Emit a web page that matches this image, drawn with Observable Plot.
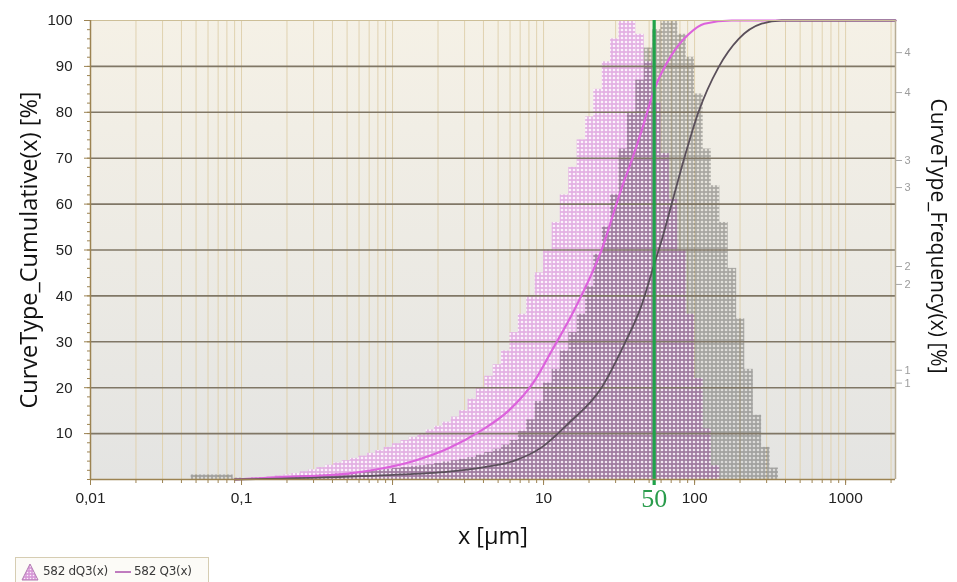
<!DOCTYPE html>
<html>
<head>
<meta charset="utf-8">
<script src="https://cdn.jsdelivr.net/npm/d3@7"></script>
<script src="https://cdn.jsdelivr.net/npm/@observablehq/plot@0.6"></script>
<style>
  html, body { margin: 0; padding: 0; background: #ffffff; }
  body { position: relative; width: 957px; height: 582px; overflow: hidden; font-family: "Liberation Sans", sans-serif; }
  #legend { position: absolute; left: 15px; top: 557px; width: 194px; height: 30px; border: 1px solid #d6cdb2; background: #fcfbf7; box-sizing: border-box; }
  #legend .item { position: absolute; top: 6px; font-size: 12px; color: #3a3a3a; font-family: "DejaVu Sans", sans-serif; letter-spacing: -0.3px; }
</style>
</head>
<body>
<div id="chart"></div>
<div id="legend"></div>
<script>
// ---------- data ----------
const binEdges = [0.0464, 0.0527, 0.0599, 0.0681, 0.0774, 0.0880,
  0.1, 0.114, 0.129, 0.147, 0.167, 0.190, 0.215, 0.245, 0.278, 0.316, 0.359, 0.408, 0.464, 0.527, 0.599, 0.681, 0.774, 0.880,
  1, 1.14, 1.29, 1.47, 1.67, 1.90, 2.15, 2.45, 2.78, 3.16, 3.59, 4.08, 4.64, 5.27, 5.99, 6.81, 7.74, 8.80,
  10, 11.4, 12.9, 14.7, 16.7, 19.0, 21.5, 24.5, 27.8, 31.6, 35.9, 40.8, 46.4, 52.7, 59.9, 68.1, 77.4, 88.0,
  100, 114, 129, 147, 167, 190, 215, 245, 278, 316, 359];

const pinkFreq = [0, 0, 0, 0, 0, 0,
  0.2, 0.3, 0.4, 0.6, 0.8, 1.0, 1.3, 1.7, 2.1, 2.6, 3.1, 3.6, 4.1, 4.6, 5.1, 5.7, 6.3, 7.0,
  7.8, 8.5, 9.2, 10.0, 10.8, 11.6, 12.5, 13.6, 15, 17.5, 20, 22.5, 25, 28, 32, 36, 40, 45,
  50, 56, 62, 68, 74, 79, 85, 91, 96, 100, 100, 97, 91, 82, 71, 61, 50, 36,
  22, 11, 3, 0, 0, 0, 0, 0, 0, 0];

const greyFreq = [1.0, 1.0, 1.0, 1.0, 1.0, 0.3,
  0.2, 0.3, 0.3, 0.4, 0.5, 0.6, 0.7, 0.8, 0.9, 1.0, 1.1, 1.2, 1.3, 1.5, 1.6, 1.8, 2.0, 2.2,
  2.4, 2.6, 2.8, 3.0, 3.2, 3.5, 3.8, 4.1, 4.4, 4.8, 5.3, 5.9, 6.6, 7.5, 8.5, 10.5, 13, 17,
  21, 24, 28, 32, 36, 42, 49, 55, 62, 72, 80, 87, 94, 98, 100, 100, 97, 92,
  84, 72, 64, 56, 46, 35, 24, 14, 7, 2.5];

const pinkCumX = [0.09, 0.184, 0.511, 0.846, 1.40, 2.35, 3.88, 5.87, 8.71, 11.3, 16.0, 24.2, 32.9, 38.3, 44.6, 54.2, 70.5, 91.3, 116, 176, 2140];
const pinkCumY = [0, 0.5, 1.3, 2.4, 4.1, 6.8, 10.7, 15, 21.5, 28, 37, 50, 63.5, 69.5, 76, 85, 92.5, 97, 99.3, 100, 100];

const greyCumX = [0.09, 0.184, 0.846, 2.35, 3.88, 6.43, 9.70, 14.6, 24.2, 34.4, 44.6, 51.9, 60.4, 70.5, 84.6, 106, 144, 196, 278, 377, 2140];
const greyCumY = [0, 0.2, 0.9, 1.7, 2.6, 4.1, 7, 12.2, 20, 29.6, 38, 45, 52, 60, 69.5, 80, 89.8, 96, 99.3, 100, 100];

const xTickValues = [0.01, 0.1, 1, 10, 100, 1000];
const xTickLabels = ["0,01", "0,1", "1", "10", "100", "1000"];
const yTickValues = [10, 20, 30, 40, 50, 60, 70, 80, 90, 100];
const rightTickPos = [93.0, 84.3, 69.5, 63.6, 46.4, 42.5, 23.8, 21.0];
const rightTickLabels = ["4", "4", "3", "3", "2", "2", "1", "1"];
const d50Value = 54;
const d50Label = "50";
const yTitle = "CurveType_Cumulative(x) [%]";
const y2Title = "CurveType_Frequency(x) [%]";
const xTitle = "x [µm]";
const legendLabels = ["582 dQ3(x)", "582 Q3(x)"];

// ---------- tables ----------
const bins = pinkFreq.map((v, i) => ({x1: binEdges[i], x2: binEdges[i + 1], pink: v, grey: greyFreq[i]}));
const pinkBins = bins.filter(d => d.pink > 0);
const greyBins = bins.filter(d => d.grey > 0);
const pinkCum = pinkCumX.map((x, i) => ({x, y: pinkCumY[i]}));
const greyCum = greyCumX.map((x, i) => ({x, y: greyCumY[i]}));

const brown = "#9c8352";

const svg = Plot.plot({
  width: 957,
  height: 550,
  marginLeft: 90,
  marginRight: 62,
  marginTop: 20,
  marginBottom: 71,
  style: {background: "transparent", overflow: "visible"},
  x: {type: "log", domain: [0.01, 2140], axis: null},
  y: {domain: [0, 100], axis: null},
  marks: [
    Plot.frame({fill: "url(#bgGrad)", stroke: null}),
    Plot.gridX({stroke: "#e0d2b0", strokeOpacity: 1, strokeWidth: 1}),
    Plot.rect(pinkBins, {x1: "x1", x2: "x2", y1: () => 0, y2: "pink", fill: "url(#pinkPat)"}),
    Plot.rect(greyBins, {x1: "x1", x2: "x2", y1: () => 0, y2: "grey", fill: "url(#greyPat)", mixBlendMode: "multiply"}),
    Plot.ruleY(yTickValues.filter(v => v < 100), {stroke: "#807766", strokeWidth: 1.6}),
    Plot.line(pinkCum, {x: "x", y: "y", stroke: "#dc62dc", strokeWidth: 2.2, curve: "monotone-x"}),
    Plot.line(greyCum, {x: "x", y: "y", stroke: "#5a4f5a", strokeWidth: 1.8, curve: "monotone-x"}),
    Plot.ruleY([100], {stroke: "#cdbf98", strokeWidth: 1}),
    Plot.ruleX([2140], {stroke: "#b8ad95", strokeWidth: 1.5}),
    Plot.ruleX([d50Value], {stroke: "#1fa34a", strokeWidth: 3.2, insetBottom: -6}),
    // left axis
    Plot.axisY(d3.range(0, 101, 2), {anchor: "left", tickSize: 3, tickFormat: () => "", stroke: brown, label: null}),
    Plot.axisY(yTickValues, {anchor: "left", tickSize: 6, tickPadding: 12, stroke: brown, fill: "#222", fontSize: 15, fontFamily: "Liberation Sans", label: null}),
    Plot.ruleX([0.01], {stroke: brown, strokeWidth: 1.5}),
    // bottom axis
    Plot.ruleY([0], {stroke: brown, strokeWidth: 1.5}),
    Plot.axisX({anchor: "bottom", tickSize: 4, tickFormat: () => "", stroke: brown, label: null}),
    Plot.axisX(xTickValues, {anchor: "bottom", tickSize: 6, tickPadding: 6, stroke: brown, fill: "#222", fontSize: 15.5, fontFamily: "Liberation Sans",
      tickFormat: d => xTickLabels[xTickValues.indexOf(d)], label: null}),
    // right axis
    Plot.axisY(rightTickPos, {anchor: "right", tickSize: 6, tickPadding: 3, stroke: "#a7a7a7", fill: "#9c9c9c", fontSize: 11, fontFamily: "Liberation Sans",
      tickFormat: d => rightTickLabels[rightTickPos.indexOf(d)], label: null}),
    // titles
    Plot.text([yTitle], {frameAnchor: "left", dx: -61, rotate: -90, fontSize: 23.5, fontFamily: "Open Sans", fill: "#111", textAnchor: "middle", lineAnchor: "middle"}),
    Plot.text([y2Title], {frameAnchor: "right", dx: 42, dy: -14, rotate: 90, fontSize: 21, fontFamily: "Open Sans", fill: "#111", textAnchor: "middle", lineAnchor: "middle"}),
    Plot.text([xTitle], {frameAnchor: "bottom", dy: 57, fontSize: 23.5, fontFamily: "Open Sans", fill: "#111", textAnchor: "middle", lineAnchor: "middle"}),
    Plot.text([d50Value], {x: d => d, frameAnchor: "bottom", dy: 19, text: () => d50Label, fontSize: 26, fontFamily: "Liberation Serif", fill: "#2a9c4c", textAnchor: "middle", lineAnchor: "middle"})
  ]
});

// defs: background gradient and dotted patterns
const defs = d3.select(svg).insert("defs", ":first-child");
const grad = defs.append("linearGradient").attr("id", "bgGrad").attr("x1", 0).attr("y1", 0).attr("x2", 0).attr("y2", 1);
grad.append("stop").attr("offset", 0).attr("stop-color", "#f5f1e6");
grad.append("stop").attr("offset", 1).attr("stop-color", "#e4e4e2");
function pattern(id, base, dot) {
  const p = defs.append("pattern").attr("id", id).attr("width", 4).attr("height", 4).attr("patternUnits", "userSpaceOnUse");
  p.append("rect").attr("width", 4).attr("height", 4).attr("fill", base);
  p.append("circle").attr("cx", 2).attr("cy", 2).attr("r", 1.35).attr("fill", dot);
}
pattern("pinkPat", "#e3b0e3", "#fcf2fc");
pattern("greyPat", "#b4b4b4", "#f4f4f4");

document.getElementById("chart").appendChild(svg);

// legend
const lg = document.getElementById("legend");
lg.innerHTML = `
  <svg width="20" height="20" style="position:absolute;left:4px;top:4px">
    <defs><pattern id="lgPat" width="3" height="3" patternUnits="userSpaceOnUse"><rect width="3" height="3" fill="#d89ad8"/><circle cx="1.5" cy="1.5" r="0.8" fill="#fbeefb"/></pattern></defs>
    <polygon points="10,2 18,18 2,18" fill="url(#lgPat)" stroke="#b27ab2" stroke-width="1"/>
  </svg>
  <span class="item" style="left:27px">${legendLabels[0]}</span>
  <svg width="16" height="20" style="position:absolute;left:99px;top:4px"><line x1="0" y1="10" x2="16" y2="10" stroke="#b05cb0" stroke-width="1.6"/></svg>
  <span class="item" style="left:118px">${legendLabels[1]}</span>`;
</script>
</body>
</html>
